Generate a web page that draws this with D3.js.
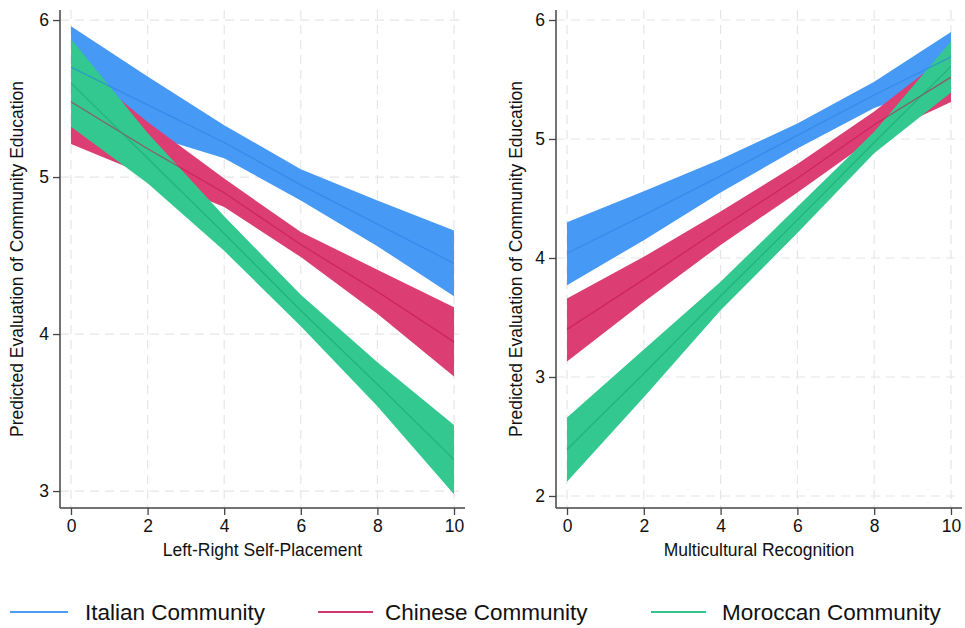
<!DOCTYPE html>
<html>
<head>
<meta charset="utf-8">
<script src="https://cdn.jsdelivr.net/npm/d3@7/dist/d3.min.js"></script>
<style>
  html, body { margin: 0; padding: 0; background: #fff; }
  svg { display: block; font-family: "Liberation Sans", Arial, Helvetica, sans-serif; }
</style>
</head>
<body>
<svg id="chart" width="965" height="628"></svg>
<script>
// Predicted values at evaluation points 0,2,...,10 with 95% confidence bounds
const xPoints = [0, 2, 4, 6, 8, 10];
const xTicks = [0, 2, 4, 6, 8, 10];

const seriesNames = ["Italian Community", "Chinese Community", "Moroccan Community"];

// Panel A: Left-Right Self-Placement
const leftItalianMean  = [5.70, 5.46, 5.22, 4.95, 4.70, 4.45];
const leftItalianLo    = [5.44, 5.27, 5.12, 4.85, 4.56, 4.24];
const leftItalianHi    = [5.96, 5.64, 5.33, 5.05, 4.85, 4.66];
const leftChineseMean  = [5.48, 5.18, 4.90, 4.57, 4.27, 3.95];
const leftChineseLo    = [5.21, 5.01, 4.81, 4.49, 4.13, 3.73];
const leftChineseHi    = [5.75, 5.35, 4.99, 4.65, 4.41, 4.17];
const leftMoroccanMean = [5.60, 5.12, 4.64, 4.15, 3.68, 3.20];
const leftMoroccanLo   = [5.32, 4.96, 4.53, 4.05, 3.54, 2.98];
const leftMoroccanHi   = [5.88, 5.28, 4.75, 4.25, 3.82, 3.42];
const leftYTicks = [3, 4, 5, 6];

// Panel B: Multicultural Recognition
const rightItalianMean  = [4.04, 4.36, 4.69, 5.03, 5.37, 5.69];
const rightItalianLo    = [3.77, 4.15, 4.55, 4.92, 5.26, 5.48];
const rightItalianHi    = [4.30, 4.56, 4.83, 5.13, 5.48, 5.90];
const rightChineseMean  = [3.40, 3.82, 4.25, 4.67, 5.12, 5.52];
const rightChineseLo    = [3.13, 3.63, 4.11, 4.55, 5.01, 5.31];
const rightChineseHi    = [3.66, 4.01, 4.39, 4.79, 5.23, 5.73];
const rightMoroccanMean = [2.39, 3.03, 3.68, 4.32, 4.97, 5.61];
const rightMoroccanLo   = [2.12, 2.83, 3.56, 4.21, 4.88, 5.39];
const rightMoroccanHi   = [2.66, 3.23, 3.80, 4.43, 5.06, 5.82];
const rightYTicks = [2, 3, 4, 5, 6];

const bandColors = ["#4799f6", "#dc3d73", "#33c88f"];
const lineColors = ["#2f7fe6", "#c4154f", "#17a673"];
const legendColors = ["#4d9df2", "#d23a6c", "#33c58c"];

const svg = d3.select("#chart");
const FONT = 17.5;

function build(xs, means, los, his) {
  return xs.map((x, i) => ({ x, m: means[i], lo: los[i], hi: his[i] }));
}

const panels = [
  {
    left: 60, right: 465, top: 10, bottom: 508,
    yDomain: [2.892, 6.064], yTicks: leftYTicks,
    xTitle: "Left-Right Self-Placement", yTitleX: 23,
    series: [
      build(xPoints, leftItalianMean, leftItalianLo, leftItalianHi),
      build(xPoints, leftChineseMean, leftChineseLo, leftChineseHi),
      build(xPoints, leftMoroccanMean, leftMoroccanLo, leftMoroccanHi)
    ]
  },
  {
    left: 556, right: 962, top: 10, bottom: 508,
    yDomain: [1.899, 6.084], yTicks: rightYTicks,
    xTitle: "Multicultural Recognition", yTitleX: 522,
    series: [
      build(xPoints, rightItalianMean, rightItalianLo, rightItalianHi),
      build(xPoints, rightChineseMean, rightChineseLo, rightChineseHi),
      build(xPoints, rightMoroccanMean, rightMoroccanLo, rightMoroccanHi)
    ]
  }
];

panels.forEach(p => {
  const x = d3.scaleLinear().domain([-0.287, 10.287]).range([p.left, p.right]);
  const y = d3.scaleLinear().domain(p.yDomain).range([p.bottom, p.top]);
  const g = svg.append("g");

  // dashed grid
  g.append("g").selectAll("line.h").data(p.yTicks).join("line")
    .attr("x1", p.left).attr("x2", p.right)
    .attr("y1", d => y(d)).attr("y2", d => y(d))
    .attr("stroke", "#e6e6e6").attr("stroke-width", 1.2).attr("stroke-dasharray", "9,6");
  g.append("g").selectAll("line.v").data(xTicks).join("line")
    .attr("x1", d => x(d)).attr("x2", d => x(d))
    .attr("y1", p.top).attr("y2", p.bottom)
    .attr("stroke", "#e6e6e6").attr("stroke-width", 1.2).attr("stroke-dasharray", "9,6");

  // confidence bands
  const area = d3.area().x(d => x(d.x)).y0(d => y(d.lo)).y1(d => y(d.hi));
  p.series.forEach((s, i) => {
    g.append("path").datum(s).attr("d", area).attr("fill", bandColors[i]);
  });
  // predicted lines on top
  const line = d3.line().x(d => x(d.x)).y(d => y(d.m));
  p.series.forEach((s, i) => {
    g.append("path").datum(s).attr("d", line)
      .attr("fill", "none").attr("stroke", lineColors[i])
      .attr("stroke-width", 1.3).attr("stroke-opacity", 0.6);
  });

  // axes
  const yAxis = g.append("g").attr("transform", `translate(${p.left},0)`)
    .call(d3.axisLeft(y).tickValues(p.yTicks).tickSize(7).tickPadding(4).tickFormat(d3.format("d")));
  const xAxis = g.append("g").attr("transform", `translate(0,${p.bottom})`)
    .call(d3.axisBottom(x).tickValues(xTicks).tickSize(7).tickPadding(5).tickFormat(d3.format("d")));
  [yAxis, xAxis].forEach(a => {
    a.select(".domain").attr("stroke", "#444").attr("stroke-width", 1.5);
    a.selectAll(".tick line").attr("stroke", "#444").attr("stroke-width", 1.3);
    a.selectAll(".tick text").attr("fill", "#111").style("font-size", FONT + "px")
      .style("font-family", "'Liberation Sans', Arial, Helvetica, sans-serif");
  });
  yAxis.select(".domain").attr("d", `M0,${p.top}V${p.bottom}`);
  xAxis.select(".domain").attr("d", `M${p.left},0H${p.right}`);

  // axis titles
  g.append("text")
    .attr("x", (x(0) + x(10)) / 2).attr("y", 556)
    .attr("text-anchor", "middle").attr("fill", "#111")
    .style("font-size", FONT + "px").text(p.xTitle);
  g.append("text")
    .attr("transform", `translate(${p.yTitleX},${(p.top + p.bottom) / 2}) rotate(-90)`)
    .attr("text-anchor", "middle").attr("fill", "#111")
    .style("font-size", FONT + "px").text("Predicted Evaluation of Community Education");
});

// legend
const legendItems = [
  { x1: 10, x2: 68, tx: 85 },
  { x1: 318, x2: 373, tx: 385 },
  { x1: 651, x2: 706, tx: 722 }
];
const lg = svg.append("g");
legendItems.forEach((it, i) => {
  lg.append("line").attr("x1", it.x1).attr("x2", it.x2).attr("y1", 612).attr("y2", 612)
    .attr("stroke", legendColors[i]).attr("stroke-width", 2);
  lg.append("text").attr("x", it.tx).attr("y", 620).attr("fill", "#111")
    .style("font-size", "22.5px").text(seriesNames[i]);
});
</script>
</body>
</html>
